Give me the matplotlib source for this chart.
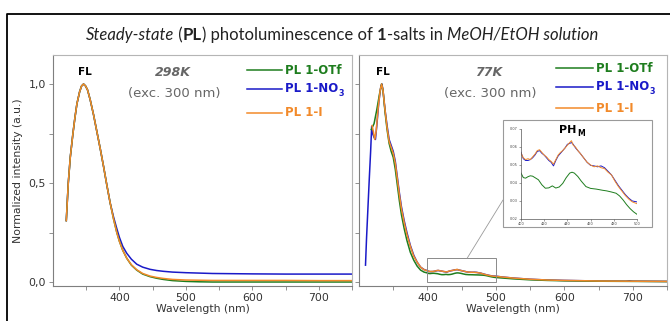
import matplotlib
matplotlib.use('Agg')
import matplotlib.pyplot as plt
from matplotlib.patches import Rectangle, ConnectionPatch
from matplotlib.lines import Line2D
from matplotlib.ticker import FixedLocator, FuncFormatter

# ---- data ----
# 298 K
wl_298 = [320, 323, 326, 330, 333, 336, 340, 343, 346, 349, 352, 356, 361, 366, 371,
          376, 381, 386, 391, 396, 400, 405, 411, 418, 426, 435, 446, 456, 466, 480,
          500, 520, 540, 570, 600, 650, 700, 750]
otf_298 = [0.31, 0.50, 0.63, 0.75, 0.83, 0.90, 0.96, 0.99, 1.0, 0.99, 0.97, 0.92, 0.845,
           0.76, 0.675, 0.585, 0.49, 0.40, 0.32, 0.25, 0.205, 0.16, 0.12, 0.085, 0.06,
           0.04, 0.027, 0.019, 0.013, 0.007, 0.003, 0.001, 0.0, 0.0, 0.0, 0.0, 0.0, 0.0]
no3_298 = [0.31, 0.50, 0.63, 0.75, 0.83, 0.90, 0.96, 0.99, 1.0, 0.99, 0.97, 0.92, 0.845,
           0.76, 0.675, 0.585, 0.49, 0.40, 0.33, 0.27, 0.225, 0.18, 0.145, 0.115, 0.09,
           0.075, 0.064, 0.058, 0.054, 0.05, 0.047, 0.045, 0.043, 0.042, 0.041, 0.04,
           0.04, 0.04]
i_298 = [0.31, 0.50, 0.63, 0.75, 0.83, 0.90, 0.96, 0.99, 1.0, 0.99, 0.97, 0.92, 0.845,
         0.76, 0.675, 0.585, 0.49, 0.40, 0.32, 0.25, 0.205, 0.16, 0.12, 0.087, 0.062,
         0.043, 0.03, 0.023, 0.018, 0.013, 0.01, 0.009, 0.008, 0.008, 0.008, 0.008,
         0.007, 0.007]

# 77 K
wl_77_otf = [318, 322, 326, 330, 333, 335, 338, 341, 344, 347, 350, 353, 356, 359, 362,
             366, 370, 375, 380, 385, 390, 395,
             400, 402, 404, 406, 408, 410, 412, 415, 418, 421, 424, 427, 430, 433, 436,
             439, 442, 444, 446, 449, 452, 456, 460, 465, 470, 474, 478, 482, 485, 488,
             491, 494, 497, 500,
             510, 525, 550, 575, 600, 650, 700, 750]
otf_77 = [0.77, 0.80, 0.87, 0.95, 1.0, 0.97, 0.86, 0.77, 0.70, 0.66, 0.63, 0.57, 0.49,
          0.41, 0.34, 0.27, 0.21, 0.15, 0.11, 0.08, 0.06, 0.05,
          0.0455, 0.043, 0.0427, 0.0435, 0.044, 0.0438, 0.043, 0.0418, 0.039, 0.0371,
          0.0373, 0.0384, 0.0372, 0.0378, 0.0398, 0.043, 0.0455, 0.046, 0.0455, 0.0436,
          0.041, 0.038, 0.037, 0.0366, 0.036, 0.0356, 0.035, 0.0343, 0.0328, 0.0306,
          0.028, 0.0258, 0.024, 0.0226,
          0.02, 0.016, 0.011, 0.008, 0.006, 0.004, 0.003, 0.002]

wl_77_no3 = [309.5, 311, 313, 315, 317, 318.5, 320, 322, 324, 326, 329, 332, 333.5, 335,
             338, 341, 344, 347, 350, 353, 356, 359, 362, 366, 370, 375, 380, 385, 390,
             395,
             400, 402, 404, 406, 408, 410, 412, 414, 416, 418, 420, 422, 424, 426, 428,
             430, 432, 434, 436, 438, 440, 442, 443.5, 445, 447, 449, 451, 454, 457, 460,
             463, 466, 469, 472, 475, 478, 481, 484, 487, 490, 493, 496, 500,
             510, 525, 550, 575, 600, 650, 690, 695, 700, 750]
no3_77 = [0.085, 0.22, 0.37, 0.52, 0.66, 0.785, 0.75, 0.73, 0.72, 0.79, 0.91, 0.99, 1.0,
          0.97, 0.87, 0.79, 0.72, 0.69, 0.66, 0.61, 0.53, 0.45, 0.38, 0.31, 0.25, 0.185,
          0.135, 0.10, 0.075, 0.063,
          0.057, 0.0535, 0.0525, 0.0525, 0.053, 0.054, 0.0555, 0.0575, 0.058, 0.0565,
          0.0555, 0.054, 0.0525, 0.0515, 0.0495, 0.0525, 0.055, 0.0565, 0.058, 0.0595,
          0.0615, 0.062, 0.0625, 0.0615, 0.0595, 0.058, 0.0565, 0.054, 0.0515, 0.0498,
          0.0495, 0.049, 0.0495, 0.0485, 0.0465, 0.0445, 0.0415, 0.0385, 0.036, 0.0335,
          0.0315, 0.03, 0.0295,
          0.025, 0.02, 0.014, 0.01, 0.008, 0.005, 0.004, 0.006, 0.004, 0.003]

wl_77_i = [319, 321, 323, 325, 328, 331, 333, 335, 338, 341, 344, 347, 350, 353, 356,
           359, 362, 366, 370, 375, 380, 385, 390, 395,
           400, 402, 404, 406, 408, 410, 412, 414, 416, 418, 420, 422, 424, 426, 428,
           430, 432, 434, 436, 438, 440, 442, 443.5, 445, 447, 449, 451, 454, 457, 460,
           463, 466, 469, 472, 475, 478, 481, 484, 487, 490, 493, 496, 500,
           510, 525, 550, 575, 600, 650, 700, 750]
i_77 = [0.79, 0.76, 0.72, 0.76, 0.88, 0.97, 1.0, 0.97, 0.87, 0.78, 0.71, 0.68, 0.65,
        0.60, 0.52, 0.44, 0.37, 0.30, 0.24, 0.18, 0.13, 0.10, 0.075, 0.062,
        0.0566, 0.054, 0.053, 0.0535, 0.053, 0.0545, 0.056, 0.058, 0.0585, 0.057,
        0.0555, 0.0545, 0.053, 0.052, 0.0505, 0.053, 0.0555, 0.057, 0.058, 0.0595,
        0.061, 0.0625, 0.0635, 0.061, 0.06, 0.058, 0.0565, 0.054, 0.0515, 0.05, 0.049,
        0.0495, 0.0485, 0.048, 0.046, 0.0445, 0.041, 0.038, 0.0355, 0.033, 0.031,
        0.0295, 0.0285,
        0.025, 0.02, 0.014, 0.01, 0.008, 0.005, 0.004, 0.003]

x_major = [400, 500, 600, 700]
x_minor = [350, 450, 550, 650, 750]
y_major = [0.0, 0.5, 1.0]
y_minor = [0.25, 0.75]
inset_xticks = [400, 420, 440, 460, 480, 500]
inset_yticks = [0.02, 0.03, 0.04, 0.05, 0.06, 0.07]

GREEN = '#1e7d1e'
BLUE = '#1a1ac8'
ORANGE = '#f28a2a'
labels = ['PL 1-OTf', 'PL 1-NO', 'PL 1-I']
colors = [GREEN, BLUE, ORANGE]

W, H = 670, 321
fig = plt.figure(figsize=(W / 100, H / 100), dpi=100)


def box(x0, y0, x1, y1):
    # pixel box (top-left origin) -> figure fraction rect
    return [x0 / W, 1 - y1 / H, (x1 - x0) / W, (y1 - y0) / H]


def px(x, y):
    return x / W, 1 - y / H


def comma(v, p):
    return ('%.1f' % v).replace('.', ',')


def style_axes(ax, show_ylabels):
    ax.set_xlim(300, 750)
    ax.set_ylim(-0.0202, 1.1465)
    for s in ['left', 'bottom']:
        ax.spines[s].set_color('#7f7f7f')
        ax.spines[s].set_linewidth(0.8)
    for s in ['top', 'right']:
        ax.spines[s].set_color('#b5b5b5')
        ax.spines[s].set_linewidth(0.8)
    ax.xaxis.set_major_locator(FixedLocator(x_major))
    ax.xaxis.set_minor_locator(FixedLocator(x_minor))
    ax.yaxis.set_major_locator(FixedLocator(y_major))
    ax.yaxis.set_minor_locator(FixedLocator(y_minor))
    ax.tick_params(which='both', direction='out', color='#7f7f7f', width=0.6,
                   labelsize=7.8, labelcolor='#333333', pad=2, length=3)
    ax.tick_params(axis='y', labelleft=show_ylabels)
    ax.yaxis.set_major_formatter(FuncFormatter(comma))
    ax.set_xlabel('Wavelength (nm)', fontsize=7.8, color='#333333', labelpad=1)


ax1 = fig.add_axes(box(53, 55, 352, 286))
ax2 = fig.add_axes(box(359, 55, 667, 286))
style_axes(ax1, True)
style_axes(ax2, False)
ax1.set_ylabel('Normalized intensity (a.u.)', fontsize=7.8, color='#333333', labelpad=4)

ax1.plot(wl_298, no3_298, color=BLUE, lw=1.1)
ax1.plot(wl_298, otf_298, color=GREEN, lw=1.1)
ax1.plot(wl_298, i_298, color=ORANGE, lw=1.1)

ax2.plot(wl_77_no3, no3_77, color=BLUE, lw=1.1)
ax2.plot(wl_77_otf, otf_77, color=GREEN, lw=1.1)
ax2.plot(wl_77_i, i_77, color=ORANGE, lw=1.1)
ax2.add_patch(Rectangle((400, 0.0), 100, 0.12, fill=False, edgecolor='#8a8a8a', lw=0.7,
                        zorder=5))

# annotations inside panels
bold = dict(family='DejaVu Sans', weight='bold')
for x in [85, 383]:
    fig.text(*px(x, 72), 'FL', fontsize=7.5, ha='center', va='center', color='black', **bold)
for x, t in [(173, '298K'), (489, '77K')]:
    fig.text(*px(x, 73), t, fontsize=9, ha='center', va='center', color='#666666',
             family='DejaVu Sans', weight='bold', style='italic')
    fig.text(*px(x + 1, 94), '(exc. 300 nm)', fontsize=9.5, ha='center', va='center',
             color='#666666')

# hand-made legends (the left one is clipped by its panel, as in the original)
for ax, (lx0, lx1, tx, ys) in [(ax1, (247, 282, 285, [70, 89, 113])),
                               (ax2, (556, 593, 596, [68, 87, 108]))]:
    for lab, col, y in zip(labels, colors, ys):
        fig.add_artist(Line2D([lx0 / W, lx1 / W], [1 - y / H, 1 - y / H], color=col,
                              lw=1.1))
        t = ax.text(*px(tx, y), lab, fontsize=8.5, ha='left', va='center', color=col,
                    transform=fig.transFigure, clip_on=True, **bold)
        if lab.endswith('NO'):
            sub = ax.annotate('3', xy=(1, 0), xycoords=t, xytext=(0.3, -2),
                              textcoords='offset points', fontsize=5.8, color=col,
                              va='bottom', annotation_clip=False, **bold)
            sub.set_clip_box(ax.bbox)
            sub.set_clip_on(True)

# inset
fig.add_artist(Rectangle(px(503, 227), 149 / W, 107 / H, transform=fig.transFigure,
                         facecolor='white', edgecolor='#9a9a9a', lw=0.8, zorder=3))
con = ConnectionPatch(xyA=(458, 0.12), coordsA=ax2.transData,
                      xyB=(503, H - 200), coordsB='figure pixels',
                      color='#9a9a9a', lw=0.6, zorder=3)
fig.add_artist(con)

axi = fig.add_axes(box(521, 129, 637, 219), zorder=4)
axi.patch.set_alpha(0)
axi.plot(wl_77_otf, otf_77, color=GREEN, lw=0.7)
axi.plot(wl_77_no3, no3_77, color=BLUE, lw=0.7)
axi.plot(wl_77_i, i_77, color=ORANGE, lw=0.7)
axi.set_xlim(400, 500)
axi.set_ylim(0.02, 0.07)
axi.set_xticks(inset_xticks)
axi.set_yticks(inset_yticks)
axi.yaxis.set_major_formatter(FuncFormatter(lambda v, p: ('%.2f' % v).replace('.', ',')))
axi.tick_params(labelsize=2.5, length=1.2, width=0.4, pad=1, color='#555555',
                labelcolor='#444444')
for s in ['top', 'right']:
    axi.spines[s].set_visible(False)
for s in ['left', 'bottom']:
    axi.spines[s].set_color('#555555')
    axi.spines[s].set_linewidth(0.5)

ph = fig.text(*px(559, 130), 'PH', fontsize=8, ha='left', va='center', color='black',
              zorder=5, **bold)
fig.add_artist(plt.Annotation('M', xy=(1, 0), xycoords=ph, xytext=(0.3, -2),
                              textcoords='offset points', fontsize=5.5, color='black',
                              va='bottom', zorder=5, **bold))

# title with mixed styles
title_parts = [('Steady-state', 'italic', 'normal'), (' (', 'normal', 'normal'),
               ('PL', 'normal', 'bold'), (') photoluminescence of ', 'normal', 'normal'),
               ('1', 'normal', 'bold'), ('-salts in ', 'normal', 'normal'),
               ('MeOH/EtOH solution', 'italic', 'normal')]
prev = None
for s, st, wt in title_parts:
    if prev is None:
        prev = fig.text(*px(86, 35), s, fontsize=12, family='Lato', style=st, weight=wt,
                        ha='left', va='center', color='#222222')
    else:
        a = plt.Annotation(s, xy=(1, 0), xycoords=prev, fontsize=12, family='Lato',
                           style=st, weight=wt, va='bottom', ha='left', color='#222222')
        fig.add_artist(a)
        prev = a

# outer black frame (top and left edges visible)
fig.add_artist(Line2D([7 / W, 7 / W, 1.01], [-0.01, 1 - 14 / H, 1 - 14 / H],
                      color='black', lw=1.3))

fig.savefig('out.png', dpi=100)
